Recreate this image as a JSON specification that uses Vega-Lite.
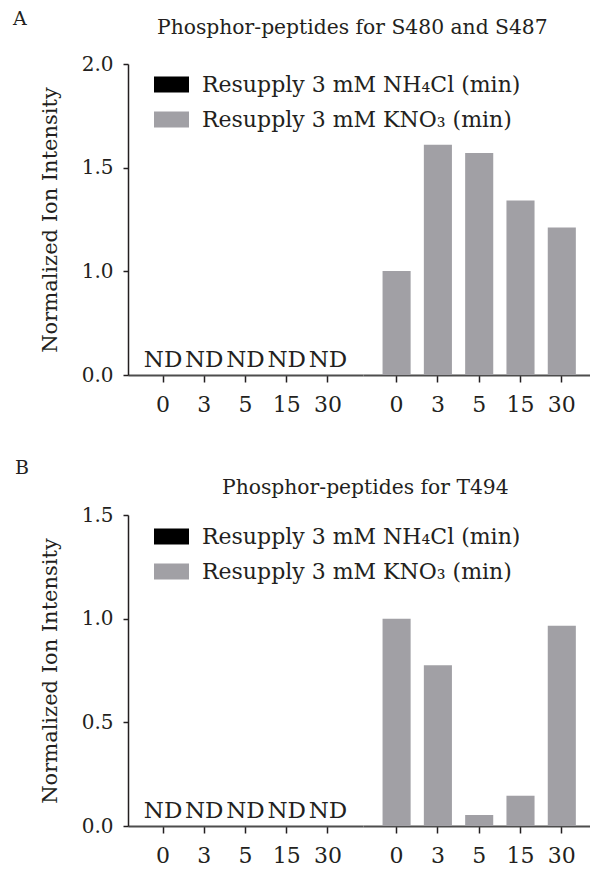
{
  "$schema": "https://vega.github.io/schema/vega-lite/v6.json",
  "padding": {"left": 13, "top": 10, "right": 0, "bottom": 5},
  "background": "#ffffff",
  "datasets": {
    "rows": [
      {"panel": "A", "salt": "NH4Cl", "treatment": "Resupply 3 mM NH₄Cl (min)", "time": 0, "value": 0, "label": "ND"},
      {"panel": "A", "salt": "NH4Cl", "treatment": "Resupply 3 mM NH₄Cl (min)", "time": 3, "value": 0, "label": "ND"},
      {"panel": "A", "salt": "NH4Cl", "treatment": "Resupply 3 mM NH₄Cl (min)", "time": 5, "value": 0, "label": "ND"},
      {"panel": "A", "salt": "NH4Cl", "treatment": "Resupply 3 mM NH₄Cl (min)", "time": 15, "value": 0, "label": "ND"},
      {"panel": "A", "salt": "NH4Cl", "treatment": "Resupply 3 mM NH₄Cl (min)", "time": 30, "value": 0, "label": "ND"},
      {"panel": "A", "salt": "KNO3", "treatment": "Resupply 3 mM KNO₃ (min)", "time": 0, "value": 1.0, "label": ""},
      {"panel": "A", "salt": "KNO3", "treatment": "Resupply 3 mM KNO₃ (min)", "time": 3, "value": 1.61, "label": ""},
      {"panel": "A", "salt": "KNO3", "treatment": "Resupply 3 mM KNO₃ (min)", "time": 5, "value": 1.57, "label": ""},
      {"panel": "A", "salt": "KNO3", "treatment": "Resupply 3 mM KNO₃ (min)", "time": 15, "value": 1.34, "label": ""},
      {"panel": "A", "salt": "KNO3", "treatment": "Resupply 3 mM KNO₃ (min)", "time": 30, "value": 1.21, "label": ""},
      {"panel": "B", "salt": "NH4Cl", "treatment": "Resupply 3 mM NH₄Cl (min)", "time": 0, "value": 0, "label": "ND"},
      {"panel": "B", "salt": "NH4Cl", "treatment": "Resupply 3 mM NH₄Cl (min)", "time": 3, "value": 0, "label": "ND"},
      {"panel": "B", "salt": "NH4Cl", "treatment": "Resupply 3 mM NH₄Cl (min)", "time": 5, "value": 0, "label": "ND"},
      {"panel": "B", "salt": "NH4Cl", "treatment": "Resupply 3 mM NH₄Cl (min)", "time": 15, "value": 0, "label": "ND"},
      {"panel": "B", "salt": "NH4Cl", "treatment": "Resupply 3 mM NH₄Cl (min)", "time": 30, "value": 0, "label": "ND"},
      {"panel": "B", "salt": "KNO3", "treatment": "Resupply 3 mM KNO₃ (min)", "time": 0, "value": 1.0, "label": ""},
      {"panel": "B", "salt": "KNO3", "treatment": "Resupply 3 mM KNO₃ (min)", "time": 3, "value": 0.775, "label": ""},
      {"panel": "B", "salt": "KNO3", "treatment": "Resupply 3 mM KNO₃ (min)", "time": 5, "value": 0.053, "label": ""},
      {"panel": "B", "salt": "KNO3", "treatment": "Resupply 3 mM KNO₃ (min)", "time": 15, "value": 0.146, "label": ""},
      {"panel": "B", "salt": "KNO3", "treatment": "Resupply 3 mM KNO₃ (min)", "time": 30, "value": 0.966, "label": ""}
    ]
  },
  "data": {"name": "rows"},
  "bounds": "flush",
  "spacing": 451,
  "resolve": {"scale": {"color": "independent", "x": "independent", "y": "independent"}, "legend": {"color": "independent"}},
  "vconcat": [
    {
      "bounds": "flush",
      "spacing": 0,
      "resolve": {"scale": {"color": "independent", "x": "independent", "y": "independent"}, "legend": {"color": "independent"}},
      "hconcat": [
        {
          "width": 235,
          "height": 311,
          "title": {"text": "A", "anchor": "start", "frame": "group", "dx": -115, "offset": 10, "fontSize": 19, "baseline": "alphabetic"},
          "transform": [{"filter": "datum.panel === 'A' && datum.salt === 'NH4Cl'"}],
          "encoding": {
            "x": {"field": "time", "type": "ordinal", "scale": {"paddingInner": 0.32, "paddingOuter": 0.51},
                  "axis": {"title": null, "labelAngle": 0, "labelFontSize": 22, "tickSize": 7, "labelPadding": 12, "domainColor": "#4d4d4d", "domainWidth": 2, "tickWidth": 1.5}},
            "y": {"field": "value", "type": "quantitative", "scale": {"domain": [0, 1, 2], "range": [311, 207, 0], "nice": false, "zero": false},
                  "axis": {"title": "Normalized Ion Intensity", "values": [0, 1, 1.5, 2], "format": ".1f", "labelFontSize": 20, "titleFontSize": 21, "tickSize": 5, "labelPadding": 10, "titlePadding": 21, "domainWidth": 1.5, "tickWidth": 1.5}}
          },
          "layer": [
            {
              "mark": {"type": "bar"},
              "encoding": {
                "color": {"field": "treatment", "type": "nominal",
                  "scale": {"domain": ["Resupply 3 mM NH₄Cl (min)", "Resupply 3 mM KNO₃ (min)"], "range": ["#000000", "#a1a0a5"]},
                  "legend": {"title": null, "orient": "none", "legendX": 26, "legendY": 3}}
              }
            },
            {
              "mark": {"type": "text", "baseline": "alphabetic", "dy": -8, "font": "DejaVu Serif", "fontSize": 23, "color": "#231f20"},
              "encoding": {"text": {"field": "label"}}
            }
          ]
        },
        {
          "width": 227,
          "height": 311,
          "title": {"text": "Phosphor-peptides for S480 and S487", "anchor": "start", "frame": "group", "dx": -206, "offset": 10, "fontSize": 20.3, "baseline": "alphabetic"},
          "transform": [{"filter": "datum.panel === 'A' && datum.salt === 'KNO3'"}],
          "mark": {"type": "bar", "color": "#a1a0a5"},
          "encoding": {
            "x": {"field": "time", "type": "ordinal", "scale": {"paddingInner": 0.32, "paddingOuter": 0.408, "align": 0.58},
                  "axis": {"title": null, "labelAngle": 0, "labelFontSize": 22, "tickSize": 7, "labelPadding": 12, "domainColor": "#4d4d4d", "domainWidth": 2, "tickWidth": 1.5}},
            "y": {"field": "value", "type": "quantitative", "scale": {"domain": [0, 1, 2], "range": [311, 207, 0], "nice": false, "zero": false}, "axis": null}
          }
        }
      ]
    },
    {
      "bounds": "flush",
      "spacing": 0,
      "resolve": {"scale": {"color": "independent", "x": "independent", "y": "independent"}, "legend": {"color": "independent"}},
      "hconcat": [
        {
          "width": 235,
          "height": 311,
          "title": {"text": "B", "anchor": "start", "frame": "group", "dx": -113, "offset": 12, "fontSize": 19, "baseline": "alphabetic"},
          "transform": [{"filter": "datum.panel === 'B' && datum.salt === 'NH4Cl'"}],
          "encoding": {
            "x": {"field": "time", "type": "ordinal", "scale": {"paddingInner": 0.32, "paddingOuter": 0.51},
                  "axis": {"title": null, "labelAngle": 0, "labelFontSize": 22, "tickSize": 7, "labelPadding": 12, "domainColor": "#4d4d4d", "domainWidth": 2, "tickWidth": 1.5}},
            "y": {"field": "value", "type": "quantitative", "scale": {"domain": [0, 1.5], "nice": false, "zero": true},
                  "axis": {"title": "Normalized Ion Intensity", "values": [0, 0.5, 1, 1.5], "format": ".1f", "labelFontSize": 20, "titleFontSize": 21, "tickSize": 5, "labelPadding": 10, "titlePadding": 21, "domainWidth": 1.5, "tickWidth": 1.5}}
          },
          "layer": [
            {
              "mark": {"type": "bar"},
              "encoding": {
                "color": {"field": "treatment", "type": "nominal",
                  "scale": {"domain": ["Resupply 3 mM NH₄Cl (min)", "Resupply 3 mM KNO₃ (min)"], "range": ["#000000", "#a1a0a5"]},
                  "legend": {"title": null, "orient": "none", "legendX": 26, "legendY": 4}}
              }
            },
            {
              "mark": {"type": "text", "baseline": "alphabetic", "dy": -8, "font": "DejaVu Serif", "fontSize": 23, "color": "#231f20"},
              "encoding": {"text": {"field": "label"}}
            }
          ]
        },
        {
          "width": 227,
          "height": 311,
          "title": {"text": "Phosphor-peptides for T494", "anchor": "start", "frame": "group", "dx": -141, "offset": 1, "fontSize": 20.3, "baseline": "alphabetic"},
          "transform": [{"filter": "datum.panel === 'B' && datum.salt === 'KNO3'"}],
          "mark": {"type": "bar", "color": "#a1a0a5"},
          "encoding": {
            "x": {"field": "time", "type": "ordinal", "scale": {"paddingInner": 0.32, "paddingOuter": 0.408, "align": 0.58},
                  "axis": {"title": null, "labelAngle": 0, "labelFontSize": 22, "tickSize": 7, "labelPadding": 12, "domainColor": "#4d4d4d", "domainWidth": 2, "tickWidth": 1.5}},
            "y": {"field": "value", "type": "quantitative", "scale": {"domain": [0, 1.5], "nice": false, "zero": true}, "axis": null}
          }
        }
      ]
    }
  ],
  "config": {
    "view": {"stroke": null},
    "font": "DejaVu Serif",
    "axis": {"labelFont": "DejaVu Serif", "titleFont": "DejaVu Serif", "grid": false, "labelColor": "#231f20", "titleColor": "#231f20", "domainColor": "#231f20", "tickColor": "#231f20", "titleFontWeight": "normal"},
    "legend": {"labelFont": "DejaVu Serif", "labelFontSize": 22, "labelColor": "#231f20", "labelLimit": 0, "symbolType": "M-1,-0.46H1V0.46H-1Z", "symbolSize": 1225, "symbolStrokeWidth": 0, "labelOffset": 13, "rowPadding": 6, "padding": 0},
    "title": {"font": "DejaVu Serif", "fontWeight": "normal", "color": "#231f20"}
  }
}
